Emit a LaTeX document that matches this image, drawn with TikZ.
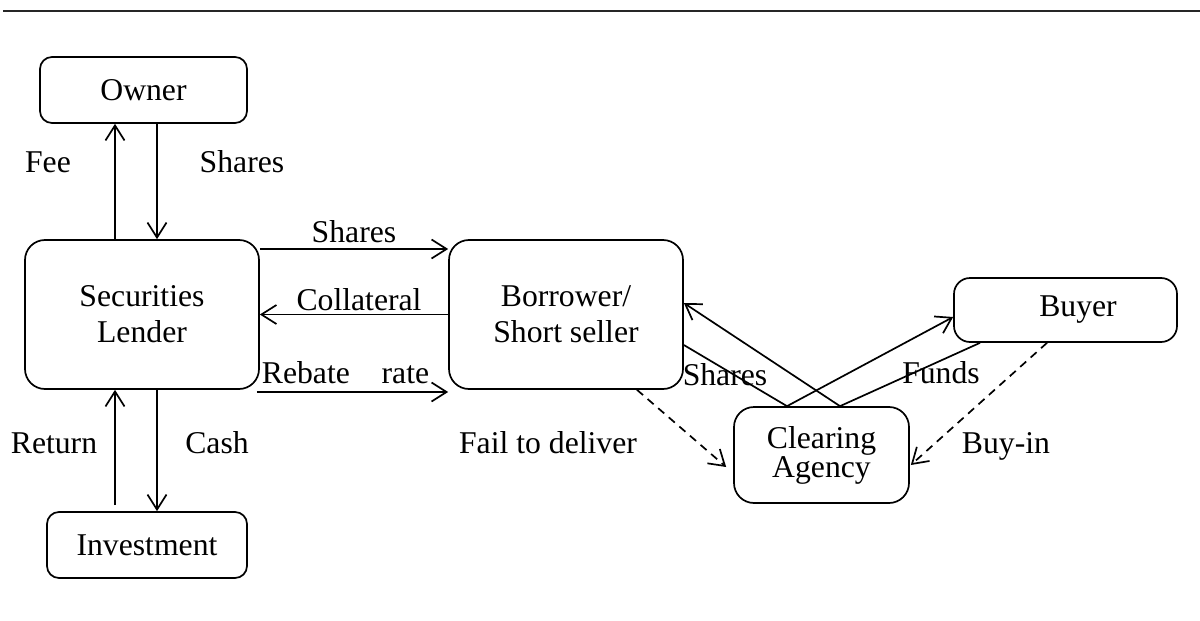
\documentclass[tikz,border=0pt]{standalone}
\usepackage{fontspec}
\setmainfont{Liberation Serif}
\usetikzlibrary{arrows.meta}
\newcommand\diagfont{\fontsize{15.85}{18}\selectfont}
\tikzset{
  party/.style={draw, line width=0.85pt, rounded corners=10pt, align=center,
                inner sep=0pt, font=\diagfont},
  smallparty/.style={party, rounded corners=6pt},
  flow/.style={-{Straight Barb[length=7.5pt,width=9.5pt]}, line width=0.85pt},
  link/.style={line width=0.85pt},
  failflow/.style={flow, dash pattern=on 4pt off 3pt},
  lbl/.style={font=\diagfont, inner sep=0pt, anchor=base},
}

\begin{document}
\begin{tikzpicture}[x=0.5pt, y=-0.5pt]
    \useasboundingbox (0,0) rectangle (1200,621);
    \draw[line width=1.2pt, black!85] (3,11) -- (1200,11);
    % parties
    \node[smallparty, minimum width=103.5pt, minimum height=33pt] (owner) at (143.5,90) {Owner};
    \node[party, minimum width=117pt, minimum height=74.5pt] (lender) at (142,314.5) {Securities\\Lender};
    \node[smallparty, minimum width=100pt, minimum height=33pt] (invest) at (147,545) {Investment};
    \node[party, minimum width=117pt, minimum height=74.5pt] (borrower) at (566,314.5) {Borrower/\\Short seller};
    \node[party, rounded corners=8pt, minimum width=111.5pt, minimum height=32pt] (buyer) at (1065.5,310) {\hspace{12.5pt}Buyer};
    \node[party, font=\fontsize{15.85}{14.5}\selectfont, minimum width=87.5pt, minimum height=48pt] (clearing) at (821.5,455) {Clearing\\Agency};
    % owner and investment
    \coordinate (feeL) at ([xshift=-13.5pt]lender.north);
    \coordinate (shrL) at ([xshift=7.5pt]lender.north);
    \coordinate (retL) at ([xshift=-13.5pt]lender.south);
    \coordinate (cashL) at ([xshift=7.5pt]lender.south);
    \draw[flow] (feeL) -- (feeL |- owner.south);
    \draw[flow] (shrL |- owner.south) -- (shrL);
    \draw[flow, shorten <=3pt] (retL |- invest.north) -- (retL);
    \draw[flow] (cashL) -- (cashL |- invest.north);
    \node[lbl] at (48,172) {Fee};
    \node[lbl] at (242,172) {Shares};
    \node[lbl] at (54,453) {Return};
    \node[lbl] at (217,453) {Cash};
    % lender and borrower
    \draw[flow] ([yshift=32.75pt]lender.east) -- node[lbl, yshift=3.5pt] {Shares} ([yshift=32.75pt]borrower.west);
    \draw[flow] (borrower.west) -- node[lbl, xshift=2.5pt, yshift=2pt] {Collateral} (lender.east);
    \draw[flow] ([xshift=-1.5pt, yshift=-38.75pt]lender.east) -- node[lbl, xshift=-3.5pt, yshift=4.5pt] {Rebate\hspace{1em}rate} ([yshift=-38.75pt]borrower.west);
    % settlement
    \draw[flow] ([xshift=9.25pt]clearing.north) -- ([yshift=5.75pt]borrower.east);
    \draw[link] ([yshift=-15.25pt]borrower.east) -- ([xshift=-17.25pt]clearing.north);
    \draw[flow] ([xshift=-17.25pt]clearing.north) -- ([yshift=-3.5pt]buyer.west);
    \draw[link] ([xshift=-42.75pt]buyer.south) -- ([xshift=9.25pt]clearing.north);
    \draw[failflow] ([xshift=35.5pt]borrower.south) -- ([xshift=-3.5pt]clearing.west |- 0,467);
    \draw[failflow] ([xshift=-9.25pt]buyer.south) -- ([xshift=0.5pt]clearing.east |- 0,465);
    \node[lbl] at (725,385) {Shares};
    \node[lbl] at (941,383) {Funds};
    \node[lbl] at (548,453) {Fail to deliver};
    \node[lbl] at (1006,453) {Buy-in};
\end{tikzpicture}
\end{document}
